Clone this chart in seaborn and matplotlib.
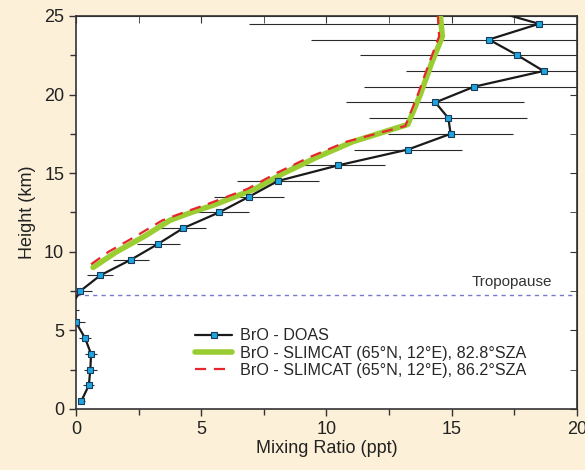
import numpy as np
import seaborn as sns
import matplotlib
matplotlib.use('Agg')
import matplotlib.pyplot as plt

# BrO - DOAS profile (height in km, mixing ratio in ppt)
doas_height = [0.5, 1.5, 2.5, 3.5, 4.5, 5.5, 6.3, 7.5, 8.5, 9.5, 10.5, 11.5, 12.5,
               13.5, 14.5, 15.5, 16.5, 17.5, 18.5, 19.5, 20.5, 21.5, 22.5, 23.5,
               24.5, 25.5]
doas_bro = [0.21, 0.51, 0.57, 0.6, 0.36, 0.0, -0.3, 0.17, 0.97, 2.2, 3.28, 4.28, 5.71,
            6.91, 8.06, 10.48, 13.25, 14.96, 14.87, 14.35, 15.9, 18.67, 17.63, 16.49,
            18.49, 16.3]
doas_err = [0.15, 0.22, 0.25, 0.25, 0.25, 0.35, 0.4, 0.45, 0.52, 0.72, 0.86, 0.92, 1.2,
            1.41, 1.63, 1.85, 2.15, 2.5, 3.15, 3.55, 4.4, 5.5, 6.3, 7.1, 11.6, 12.0]

# SLIMCAT model profiles
slim1_height = [9.0, 10.0, 11.0, 12.0, 12.5, 13.0, 14.0, 15.0, 16.0, 17.0, 18.1, 20.0, 22.0, 23.7, 25.0]
slim1_bro = [0.68, 1.62, 2.75, 3.75, 4.6, 5.55, 7.15, 8.3, 9.6, 11.05, 13.25, 13.75, 14.2, 14.63, 14.55]
slim2_height = [9.2, 10.0, 11.0, 12.0, 12.5, 13.0, 14.0, 15.0, 16.0, 17.0, 18.0, 20.0, 22.0, 23.7, 25.0]
slim2_bro = [0.6, 1.3, 2.4, 3.45, 4.3, 5.2, 6.85, 8.0, 9.3, 10.8, 13.15, 13.65, 14.1, 14.5, 14.45]

tropopause = 7.25

major_x = [0, 5, 10, 15, 20]
minor_x = [2.5, 7.5, 12.5, 17.5]
major_y = [0, 5, 10, 15, 20, 25]
minor_y = [2.5, 7.5, 12.5, 17.5, 22.5]

sns.set_style("white")
plt.rcParams['font.family'] = ['Liberation Sans', 'DejaVu Sans']

fig = plt.figure(figsize=(5.85, 4.70), dpi=100, facecolor='#fdf0d8')
ax = fig.add_axes([0.13, 0.13, 0.856, 0.836])
ax.set_facecolor('white')

# error bars first, lines on top
ax.errorbar(doas_bro, doas_height, xerr=doas_err, fmt='none', ecolor='#2a2a2a',
            elinewidth=0.8, capsize=0, zorder=2)

sns.lineplot(x=doas_bro, y=doas_height, orient='y', sort=False, color='#1a1a1a',
             linewidth=1.6, marker='s', markersize=4.8, markerfacecolor='#1ea6e0',
             markeredgecolor='#1a3a5a', markeredgewidth=0.8,
             label='BrO - DOAS', ax=ax, zorder=4)
sns.lineplot(x=slim1_bro, y=slim1_height, orient='y', sort=False, color='#9acd32',
             linewidth=4, label='BrO - SLIMCAT (65°N, 12°E), 82.8°SZA', ax=ax, zorder=3)
sns.lineplot(x=slim2_bro, y=slim2_height, orient='y', sort=False, color='#e8262e',
             linewidth=1.6, dashes=(5, 3.5), label='BrO - SLIMCAT (65°N, 12°E), 86.2°SZA',
             ax=ax, zorder=3)

ax.axhline(tropopause, color='#7777cc', linestyle=(0, (3, 3)), linewidth=1.0, zorder=1)
ax.text(19.0, tropopause + 0.35, 'Tropopause', ha='right', va='bottom',
        fontsize=11, color='#333333')

ax.set_xlim(0, 20)
ax.set_ylim(0, 25)
ax.set_xticks(major_x)
ax.set_xticks(minor_x, minor=True)
ax.set_yticks(major_y)
ax.set_yticks(minor_y, minor=True)
ax.tick_params(axis='both', which='major', labelsize=13, labelcolor='#222222',
               color='#333333', length=5, width=1)
ax.tick_params(axis='both', which='minor', color='#333333', length=4, width=1)
ax.tick_params(axis='x', which='both', direction='out', bottom=True, top=False)
ax.tick_params(axis='y', which='both', direction='out', left=True, right=False)
for spine in ax.spines.values():
    spine.set_color('#333333')
    spine.set_linewidth(1.2)

# inward ticks on top and right
top = ax.secondary_xaxis('top')
top.set_xticks(major_x)
top.set_xticks(minor_x, minor=True)
top.tick_params(which='both', direction='in', labeltop=False, color='#333333', length=5)
right = ax.secondary_yaxis('right')
right.set_yticks(major_y)
right.set_yticks(minor_y, minor=True)
right.tick_params(which='both', direction='in', labelright=False, color='#333333', length=5)

ax.set_xlabel('Mixing Ratio (ppt)', fontsize=13, color='#222222', labelpad=2)
ax.set_ylabel('Height (km)', fontsize=13, color='#222222', labelpad=6)

ax.legend(loc='lower left', bbox_to_anchor=(0.215, 0.05), frameon=False, fontsize=11.6,
          handlelength=2.3, handletextpad=0.5, labelspacing=0.15, borderpad=0.2)

plt.savefig('out.png', dpi=100, facecolor=fig.get_facecolor())
